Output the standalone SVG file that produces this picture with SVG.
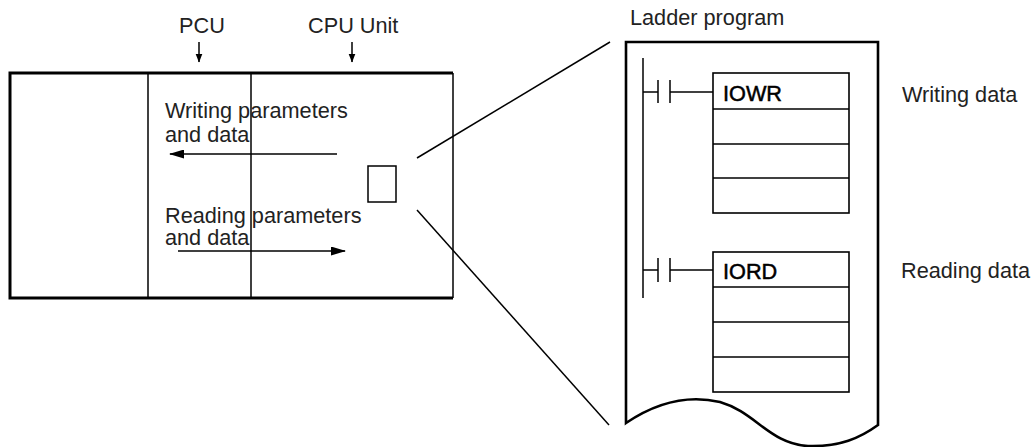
<svg xmlns="http://www.w3.org/2000/svg" width="1031" height="447" viewBox="0 0 1031 447">
<style>
text{font-family:"Liberation Sans",Arial,sans-serif;font-size:21.7px;fill:#222}
.ln{stroke:#000;fill:none;stroke-width:1.5}
.thick{stroke:#000;fill:none;stroke-width:3}
.box{stroke:#000;fill:#fff;stroke-width:1.6}
.inst{fill:#000;stroke:#000;stroke-width:0.5}
</style>
<defs>
<marker id="ah" markerWidth="15" markerHeight="9" refX="14" refY="4.5" orient="auto" markerUnits="userSpaceOnUse">
<path d="M0,0 L15,4.5 L0,9 z" fill="#000"/>
</marker>
<marker id="ahs" markerWidth="9" markerHeight="8" refX="8.5" refY="4" orient="auto" markerUnits="userSpaceOnUse">
<path d="M0,0.5 L9,4 L0,7.5 z" fill="#000"/>
</marker>
</defs>
<g id="labels">
<text x="179" y="33">PCU</text>
<text x="308" y="33">CPU Unit</text>
<text x="630" y="25">Ladder program</text>
<text x="902" y="102">Writing data</text>
<text x="901" y="278">Reading data</text>
</g>
<g id="plc">
<path class="thick" d="M453,73 L10,73 L10,298 L453,298"/>
<line class="ln" x1="453" y1="73" x2="453" y2="298" stroke-width="2"/>
<line class="ln" x1="148" y1="73" x2="148" y2="298"/>
<line class="ln" x1="251" y1="73" x2="251" y2="298"/>
<rect class="ln" x="368" y="166" width="28" height="36"/>
</g>
<g id="texts">
<text x="165" y="118">Writing parameters</text>
<text x="165" y="142">and data</text>
<text x="165" y="223">Reading parameters</text>
<text x="165" y="245">and data</text>
</g>
<g id="ladder">
<path d="M626,42 L878,42 L878,425 C860,438 840,447 808,446 C770,444 755,412 720,402 C690,395 660,400 626,423 Z" fill="#fff" stroke="#000" stroke-width="2.6"/>
<line class="ln" x1="643" y1="58" x2="643" y2="298" stroke-width="2"/>
<g id="iowr">
<line class="ln" x1="643" y1="92" x2="658" y2="92"/>
<line class="ln" x1="658" y1="80" x2="658" y2="103"/>
<line class="ln" x1="670" y1="80" x2="670" y2="103"/>
<line class="ln" x1="670" y1="92" x2="713" y2="92"/>
<rect class="box" x="713" y="73" width="136" height="140"/>
<line class="ln" x1="713" y1="109" x2="849" y2="109"/>
<line class="ln" x1="713" y1="144" x2="849" y2="144"/>
<line class="ln" x1="713" y1="178" x2="849" y2="178"/>
<text class="inst" x="723" y="101">IOWR</text>
</g>
<g id="iord">
<line class="ln" x1="643" y1="270" x2="658" y2="270"/>
<line class="ln" x1="658" y1="258" x2="658" y2="282"/>
<line class="ln" x1="670" y1="258" x2="670" y2="282"/>
<line class="ln" x1="670" y1="270" x2="713" y2="270"/>
<rect class="box" x="713" y="252" width="136" height="140"/>
<line class="ln" x1="713" y1="287" x2="849" y2="287"/>
<line class="ln" x1="713" y1="322" x2="849" y2="322"/>
<line class="ln" x1="713" y1="357" x2="849" y2="357"/>
<text class="inst" x="723" y="279">IORD</text>
</g>
</g>
<g id="connectors">
<line class="ln" x1="199" y1="42" x2="199" y2="62" stroke-width="2" marker-end="url(#ahs)"/>
<line class="ln" x1="352" y1="42" x2="352" y2="62" stroke-width="2" marker-end="url(#ahs)"/>
<line class="ln" x1="337" y1="154" x2="170" y2="154" stroke-width="2" marker-end="url(#ah)"/>
<line class="ln" x1="178" y1="251" x2="345" y2="251" stroke-width="2" marker-end="url(#ah)"/>
<line class="ln" x1="417" y1="158" x2="610" y2="42"/>
<line class="ln" x1="417" y1="210" x2="609" y2="425"/>
</g>
</svg>
